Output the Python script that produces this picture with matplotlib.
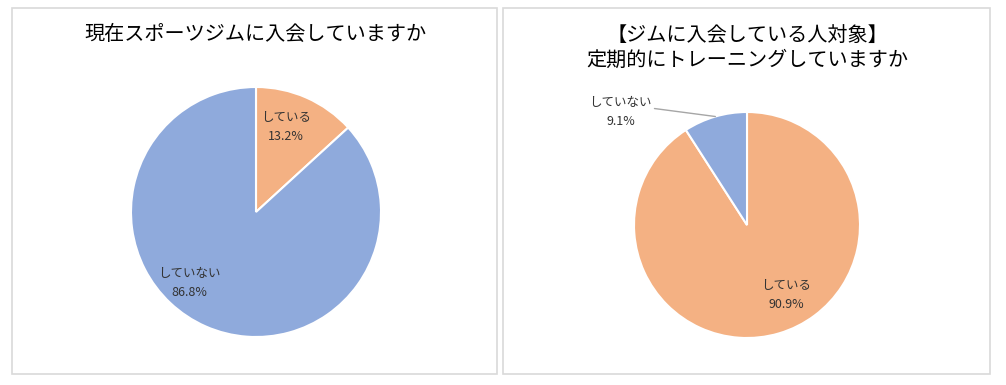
import matplotlib.pyplot as plt
from matplotlib.patches import Rectangle

plt.rcParams['font.family'] = ['Noto Sans CJK JP', 'DejaVu Sans']

# Data
left_title = "現在スポーツジムに入会していますか"
left_labels = ["している", "していない"]
left_values = [13.2, 86.8]

right_title = "【ジムに入会している人対象】\n定期的にトレーニングしていますか"
right_labels = ["している", "していない"]
right_values = [90.9, 9.1]

ORANGE = "#F4B183"
BLUE = "#8FAADC"
W, H = 1006, 385


def px_axes(fig, cx, cy, r):
    # axes square around a pie centre given in pixel coords (top-left origin)
    return fig.add_axes([(cx - r) / W, (H - cy - r) / H, 2 * r / W, 2 * r / H])


def panel(fig, x0, y0, x1, y1):
    fig.patches.append(Rectangle((x0 / W, (H - y1) / H), (x1 - x0) / W, (y1 - y0) / H,
                                 transform=fig.transFigure, fill=False,
                                 edgecolor="#D9D9D9", linewidth=1.2))


def draw_pie(ax, values):
    ax.pie(values, colors=[ORANGE, BLUE], startangle=90, counterclock=False,
           radius=1, wedgeprops=dict(edgecolor="white", linewidth=1.5))
    ax.set_xlim(-1, 1)
    ax.set_ylim(-1, 1)
    ax.set_aspect("equal")
    ax.axis("off")


fig = plt.figure(figsize=(W / 100, H / 100), dpi=100)

panel(fig, 12, 8, 497, 374)
panel(fig, 503, 8, 990, 374)

fig.text(255 / W, 1 - 34 / H, left_title, ha="center", va="center", fontsize=14.5, color="#000000")
fig.text(747 / W, 1 - 48 / H, right_title, ha="center", va="center", fontsize=14.5,
         color="#000000", linespacing=1.2)

# Left pie
ax1 = px_axes(fig, 256, 212, 125)
draw_pie(ax1, left_values)
left_pos = [(0.24, 0.68), (-0.53, -0.57)]
for lab, v, (x, y) in zip(left_labels, left_values, left_pos):
    ax1.text(x, y, f"{lab}\n{v:.1f}%", ha="center", va="center", fontsize=9,
             color="#333333", linespacing=1.6)

# Right pie
ax2 = px_axes(fig, 747, 225, 113)
draw_pie(ax2, right_values)
ax2.text(0.35, -0.62, f"{right_labels[0]}\n{right_values[0]:.1f}%", ha="center", va="center",
         fontsize=9, color="#333333", linespacing=1.6)
ax2.annotate(f"{right_labels[1]}\n{right_values[1]:.1f}%", xy=(-0.28, 0.96), xytext=(-1.12, 1.0),
             ha="center", va="center", fontsize=9, color="#333333", linespacing=1.6,
             annotation_clip=False,
             arrowprops=dict(arrowstyle="-", color="#A6A6A6", linewidth=1.0,
                             shrinkA=0, shrinkB=0, relpos=(1.0, 0.62)))

fig.savefig("out.png", dpi=100, facecolor="white")
